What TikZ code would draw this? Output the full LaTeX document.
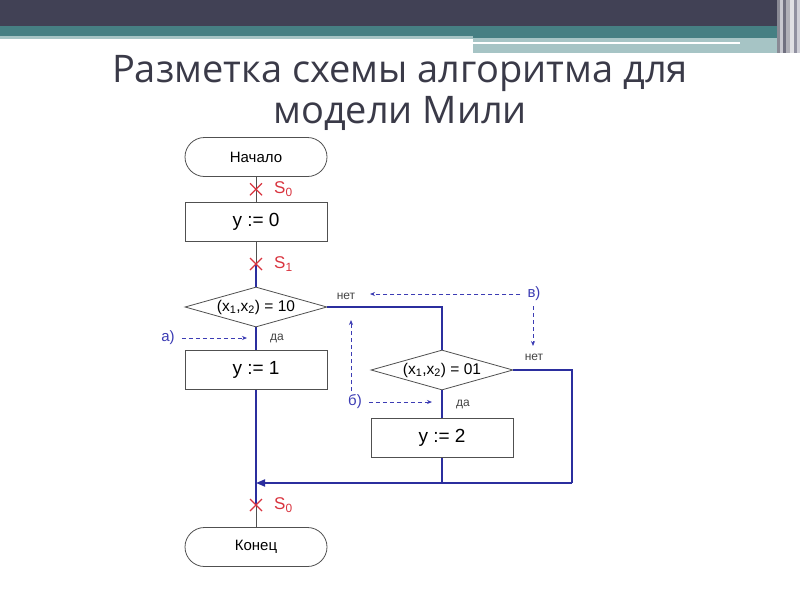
\documentclass[tikz,border=0pt]{standalone}
\usepackage{fontspec}
\setmainfont{Liberation Sans}
\newfontfamily\titlefont{Open Sans}
\usetikzlibrary{shapes.geometric,arrows.meta,calc}
\definecolor{hdark}{HTML}{414155}
\definecolor{hteal}{HTML}{467F83}
\definecolor{hlight}{HTML}{A6C4C5}
\definecolor{ttl}{HTML}{3A3A48}
\definecolor{fblue}{HTML}{2B2E9E}
\definecolor{lblue}{HTML}{3C3CB4}
\definecolor{xred}{HTML}{D9343F}
\definecolor{fgray}{HTML}{505050}
\definecolor{sgray}{HTML}{444444}
\definecolor{st0}{HTML}{8A8A95}
\definecolor{st1}{HTML}{C8C8D0}
\definecolor{st2}{HTML}{707080}
\definecolor{st3}{HTML}{B0B0B8}
\definecolor{st4}{HTML}{E0E0E4}
\definecolor{st5}{HTML}{9090A0}
\definecolor{st6}{HTML}{D0D0D8}
\newcommand{\sbs}[1]{\textsubscript{#1}}
\tikzset{
  box/.style={draw=fgray, line width=0.8pt, minimum width=142pt, minimum height=39pt, inner sep=0pt, font=\fontsize{19}{22}\selectfont},
  term/.style={box, rounded corners=19.5pt, font=\fontsize{15}{18}\selectfont},
  dec/.style={draw=fgray, line width=0.8pt, diamond, shape aspect=3.5, minimum width=142pt, minimum height=40pt, inner sep=0pt, font=\fontsize{15.5}{18}\selectfont},
  gflow/.style={draw=fgray, line width=0.8pt},
  bflow/.style={draw=fblue, line width=1.7pt},
  darr/.style={draw=lblue, line width=0.8pt, dash pattern=on 4pt off 3pt, -{Stealth[length=5pt,width=4pt]}},
  small/.style={text=sgray, font=\fontsize{12}{14}\selectfont, inner sep=0pt},
  tag/.style={text=lblue, font=\fontsize{15}{17}\selectfont, inner sep=0pt},
  stag/.style={text=xred, font=\fontsize{17}{19}\selectfont, inner sep=0pt, anchor=west},
  xmark/.pic={\draw[xred, line width=1.2pt] (-6pt,-6pt) -- (6pt,6pt) (-6pt,6pt) -- (6pt,-6pt);}
}
\begin{document}
\begin{tikzpicture}[x=1pt,y=-1pt]
\useasboundingbox (0,0) rectangle (800,600);
\fill[white] (0,0) rectangle (800,600);
% header
\fill[hdark] (0,0) rectangle (800,26);
\fill[hteal] (0,26) rectangle (777,36);
\fill[hlight] (0,36) rectangle (473,39);
\fill[hteal] (473,36) rectangle (777,38);
\fill[hlight] (473,38) rectangle (777,53);
\fill[white] (473,42.3) rectangle (740,44.3);
\fill[st0] (777,0) rectangle (780,53);
\fill[st1] (780,0) rectangle (783,53);
\fill[st2] (783,0) rectangle (786,53);
\fill[st3] (786,0) rectangle (790,53);
\fill[st4] (790,0) rectangle (794,53);
\fill[st5] (794,0) rectangle (797,53);
\fill[st6] (797,0) rectangle (800,53);
% title
\node[text=ttl, font=\titlefont\fontsize{38}{41}\selectfont, align=center, inner sep=0pt] (title) at (400,93) {Разметка схемы алгоритма для\\модели Мили};
% flowchart nodes
\node[term] (start) at (256,157) {Начало};
\node[box] (b0) at (256,221.5) {y := 0};
\node[dec] (d1) at (256,307) {(x\sbs{1},x\sbs{2}) = 10};
\node[box] (b1) at (256,370) {y := 1};
\node[dec] (d2) at (442,370) {(x\sbs{1},x\sbs{2}) = 01};
\node[box] (b2) at (442,438) {y := 2};
\node[term] (end) at (256,547) {Конец};
\coordinate (j) at (256,483);
\coordinate (rc) at (572,483);
\coordinate (s0) at ($(start.south)!0.5!(b0.north)$);
\coordinate (s1) at ($(b0.south)!0.5!(d1.north)$);
\coordinate (s2) at ($(j)!0.5!(end.north)$);
% connectors
\draw[gflow] (start.south) -- (b0.north);
\draw[gflow] (b0.south) -- (s1);
\draw[bflow] (s1) -- (d1.north);
\draw[bflow] (d1.south) -- (b1.north);
\draw[bflow] (b1.south) -- (j);
\draw[bflow] (d1.east) -| (d2.north);
\draw[bflow] (d2.east) -| (rc);
\draw[bflow, -{Triangle[length=9pt,width=7pt]}] (rc) -- (j);
\draw[bflow] (d2.south) -- (b2.north);
\draw[bflow] (b2.south) -- (b2.south |- j);
\draw[bflow] (j) -- (s2);
\draw[gflow] (s2) -- (end.north);
% state marks
\pic at (s0) {xmark};
\pic at (s1) {xmark};
\pic at (s2) {xmark};
\node[stag] (l0) at ([xshift=18pt]s0) {S\sbs{0}};
\node[stag] (l1) at ([xshift=18pt]s1) {S\sbs{1}};
\node[stag] (l2) at ([xshift=18pt]s2) {S\sbs{0}};
% condition labels
\node[small] (n1) at (346,296) {нет};
\node[small] (y1) at (277,338) {да};
\node[small] (n2) at (534,357) {нет};
\node[small] (y2) at (463,404) {да};
% tags
\node[tag] (ta) at (168,338) {а)};
\node[tag] (tb) at (355,402) {б)};
\node[tag] (tv) at (534,294) {в)};
\draw[darr] (ta.east) ++(7pt,0) -- (247,338);
\draw[darr] (tb.east) ++(7pt,0) -- (432,402);
\draw[darr] (tv.west) ++(-7pt,0) -- (370,294);
\draw[darr] (533,306) -- (533,346);
\draw[darr] (351,391) -- (351,320);
\end{tikzpicture}
\end{document}
